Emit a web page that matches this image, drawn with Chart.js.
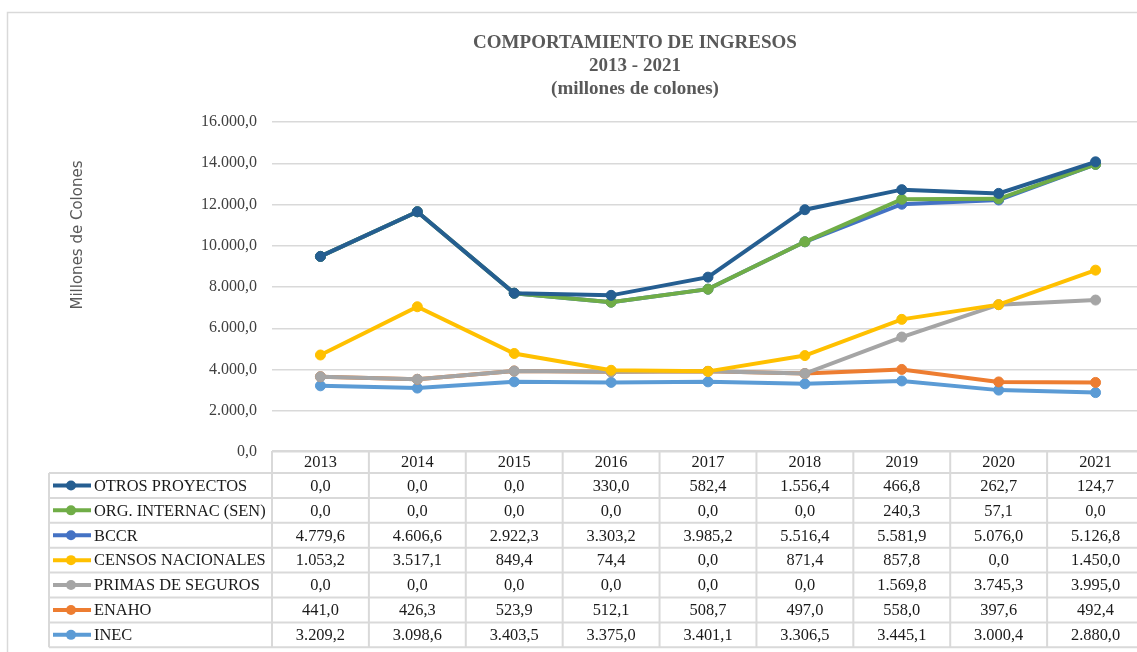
<!DOCTYPE html>
<html lang="es">
<head>
<meta charset="utf-8">
<title>Comportamiento de ingresos 2013 - 2021</title>
<script src="https://cdn.jsdelivr.net/npm/chart.js@4.4.1/dist/chart.umd.min.js"></script>
<style>
  html, body { margin: 0; padding: 0; background: #fff; overflow: hidden; }
  #wrap { width: 1150px; height: 652px; }
</style>
</head>
<body>
<div id="wrap"><canvas id="ingresosChart" width="1150" height="652"></canvas></div>
<script>
// ---------------- Data (millones de colones) ----------------
const years = ["2013", "2014", "2015", "2016", "2017", "2018", "2019", "2020", "2021"];

const otrosProyectos = [0.0, 0.0, 0.0, 330.0, 582.4, 1556.4, 466.8, 262.7, 124.7];
const orgInternac    = [0.0, 0.0, 0.0, 0.0, 0.0, 0.0, 240.3, 57.1, 0.0];
const bccr           = [4779.6, 4606.6, 2922.3, 3303.2, 3985.2, 5516.4, 5581.9, 5076.0, 5126.8];
const censos         = [1053.2, 3517.1, 849.4, 74.4, 0.0, 871.4, 857.8, 0.0, 1450.0];
const primas         = [0.0, 0.0, 0.0, 0.0, 0.0, 0.0, 1569.8, 3745.3, 3995.0];
const enaho          = [441.0, 426.3, 523.9, 512.1, 508.7, 497.0, 558.0, 397.6, 492.4];
const inec           = [3209.2, 3098.6, 3403.5, 3375.0, 3401.1, 3306.5, 3445.1, 3000.4, 2880.0];

const yTicks = [0, 2000, 4000, 6000, 8000, 10000, 12000, 14000, 16000];

// bottom of the stack first
const series = [
  { label: "INEC", data: inec, color: "#5B9BD5" },
  { label: "ENAHO", data: enaho, color: "#ED7D31" },
  { label: "PRIMAS DE SEGUROS", data: primas, color: "#A5A5A5" },
  { label: "CENSOS NACIONALES", data: censos, color: "#FFC000" },
  { label: "BCCR", data: bccr, color: "#4472C4" },
  { label: "ORG. INTERNAC (SEN)", data: orgInternac, color: "#70AD47" },
  { label: "OTROS PROYECTOS", data: otrosProyectos, color: "#255E91" }
];

const SERIF = "'Liberation Serif', 'Times New Roman', serif";

function fmtNumber(v) {
  const parts = Number(v).toFixed(1).split(".");
  return parts[0].replace(/\B(?=(\d{3})+(?!\d))/g, ".") + "," + parts[1];
}

// ---------------- Plugins ----------------
const framePlugin = {
  id: "frame",
  beforeDraw(chart) {
    const ctx = chart.ctx;
    ctx.save();
    ctx.fillStyle = "#fff";
    ctx.fillRect(0, 0, chart.width, chart.height);
    ctx.strokeStyle = "#d9d9d9";
    ctx.lineWidth = 1.5;
    ctx.beginPath();
    ctx.moveTo(7.5, chart.height + 2);
    ctx.lineTo(7.5, 12.5);
    ctx.lineTo(chart.width + 2, 12.5);
    ctx.stroke();

    // axis title sits higher than the middle of the axis in the original
    ctx.translate(78, 235);
    ctx.rotate(-Math.PI / 2);
    ctx.font = "15px 'DejaVu Sans', sans-serif";
    ctx.fillStyle = "#595959";
    ctx.textAlign = "center";
    ctx.textBaseline = "middle";
    ctx.fillText("Millones de Colones", 0, 0);
    ctx.restore();
  }
};

// top of the stack drawn last, like the original
const drawOrderPlugin = {
  id: "drawOrder",
  beforeDatasetsDraw(chart) {
    const metas = chart.getSortedVisibleDatasetMetas();
    metas.forEach(m => m.controller.draw());
    return false;
  }
};

const tablePlugin = {
  id: "dataTable",
  afterDraw(chart) {
    const ctx = chart.ctx;
    const x = chart.scales.x;
    const colW = (x.right - x.left) / years.length;
    const tableLeft = 49;
    const headTop = 451;
    const headH = 22;
    const rowH = 24.9;
    const rows = series.slice().reverse();
    const bottom = headTop + headH + rows.length * rowH;

    ctx.save();
    ctx.strokeStyle = "#d9d9d9";
    ctx.lineWidth = 2;
    ctx.beginPath();
    // horizontal lines
    ctx.moveTo(x.left, headTop); ctx.lineTo(x.right, headTop);
    for (let r = 0; r <= rows.length; r++) {
      const y = headTop + headH + r * rowH;
      ctx.moveTo(tableLeft, y); ctx.lineTo(x.right, y);
    }
    // vertical lines
    ctx.moveTo(tableLeft, headTop + headH); ctx.lineTo(tableLeft, bottom);
    for (let c = 0; c <= years.length; c++) {
      const cx = x.left + c * colW;
      ctx.moveTo(cx, headTop); ctx.lineTo(cx, bottom);
    }
    ctx.stroke();

    ctx.font = "16.4px " + SERIF;
    ctx.fillStyle = "#1a1a1a";
    ctx.textBaseline = "middle";
    ctx.textAlign = "center";
    years.forEach((yr, i) => {
      ctx.fillText(yr, x.getPixelForValue(i), headTop + headH / 2 + 1);
    });

    rows.forEach((s, r) => {
      const cy = headTop + headH + r * rowH + rowH / 2 + 1;
      // legend key
      ctx.strokeStyle = s.color;
      ctx.lineWidth = 4;
      ctx.beginPath();
      ctx.moveTo(53, cy - 1); ctx.lineTo(91, cy - 1);
      ctx.stroke();
      ctx.fillStyle = s.color;
      ctx.beginPath();
      ctx.arc(71, cy - 1, 5, 0, Math.PI * 2);
      ctx.fill();

      ctx.fillStyle = "#1a1a1a";
      ctx.textAlign = "left";
      ctx.fillText(s.label, 94, cy);
      ctx.textAlign = "center";
      s.data.forEach((v, i) => {
        ctx.fillText(fmtNumber(v), x.getPixelForValue(i), cy);
      });
    });
    ctx.restore();
  }
};

// ---------------- Chart ----------------
function renderChart() {
  const ctx = document.getElementById("ingresosChart").getContext("2d");
  new Chart(ctx, {
    type: "line",
    data: {
      labels: years,
      datasets: series.map(s => ({
        label: s.label,
        data: s.data,
        borderColor: s.color,
        backgroundColor: s.color,
        pointBackgroundColor: s.color,
        pointBorderColor: s.color,
        borderWidth: 4,
        pointRadius: 5,
        pointBorderWidth: 1,
        tension: 0,
        fill: false
      }))
    },
    options: {
      responsive: false,
      animation: false,
      devicePixelRatio: 1,
      layout: { padding: { left: 120, right: 0, top: 22, bottom: 200 } },
      plugins: {
        legend: { display: false },
        tooltip: { enabled: false },
        title: {
          display: true,
          text: ["COMPORTAMIENTO DE INGRESOS", "2013 - 2021", "(millones de colones)"],
          color: "#595959",
          font: { family: SERIF, size: 19, weight: "bold", lineHeight: 1.2 },
          padding: { top: 10, bottom: 21.6 }
        }
      },
      scales: {
        x: {
          type: "category",
          offset: true,
          display: false
        },
        y: {
          stacked: true,
          min: 0,
          max: 16000,
          afterBuildTicks: axis => { axis.ticks = yTicks.map(v => ({ value: v })); },
          afterFit: axis => { axis.width = 152; },
          border: { display: false },
          grid: { color: "#d9d9d9", lineWidth: 1.5, drawTicks: false },
          ticks: {
            padding: 15,
            color: "#404040",
            font: { family: SERIF, size: 16 },
            callback: v => fmtNumber(v)
          }
        }
      }
    },
    plugins: [framePlugin, drawOrderPlugin, tablePlugin]
  });
}

document.addEventListener("DOMContentLoaded", () => {
  renderChart();
});
</script>
</body>
</html>
